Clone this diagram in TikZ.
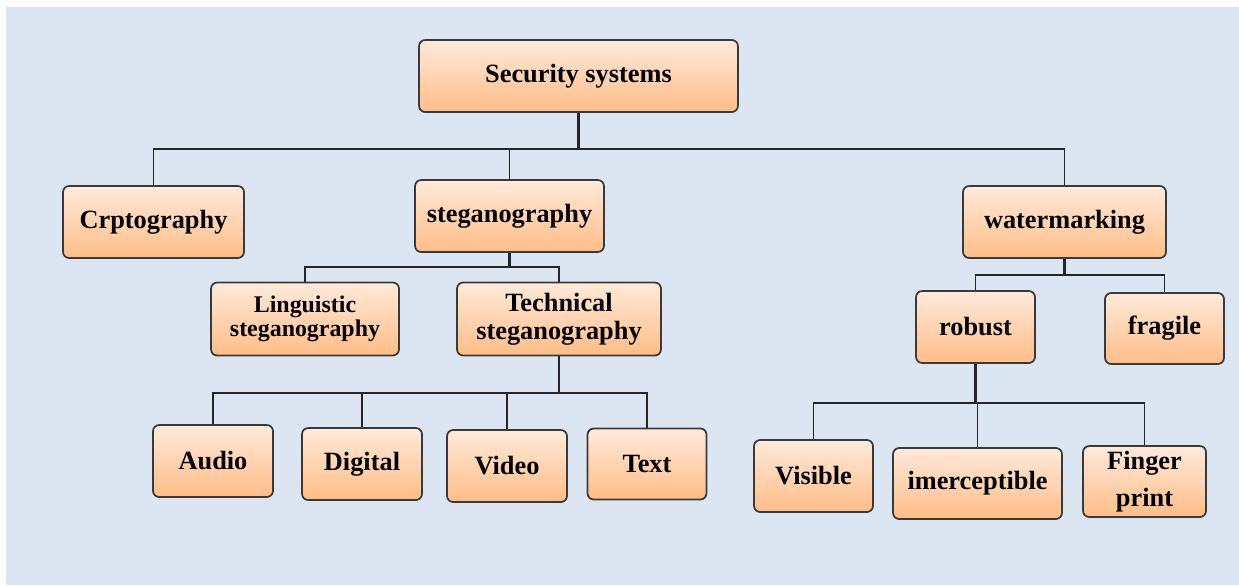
\documentclass[tikz,border=0pt]{standalone}
\usepackage{fontspec}
\setmainfont{Liberation Serif}
\definecolor{bgblue}{HTML}{DCE6F2}
\definecolor{boxtop}{HTML}{FFEADB}
\definecolor{boxbot}{HTML}{FFBD86}
\definecolor{boxline}{HTML}{3A3A3A}
\definecolor{linkline}{HTML}{262626}
\tikzset{
  box/.style={draw=boxline, line width=1pt, rounded corners=3.5pt,
    top color=boxtop, bottom color=boxbot, align=center, inner sep=0pt,
    font=\fontsize{15}{16}\selectfont\bfseries},
  link/.style={draw=linkline, line width=0.9pt},
  stem/.style={line width=1.4pt}
}
\begin{document}
\begin{tikzpicture}[x=0.02cm, y=-0.02cm]
      \useasboundingbox (0,0) rectangle (1239,585);
      \fill[bgblue] (6,7) rectangle (1239,585);
      % top level
      \node[box, minimum width=6.38cm, minimum height=1.44cm] (sec) at (578.5,76) {Security systems};
      \node[box, minimum width=3.62cm, minimum height=1.44cm] (crypto) at (153.5,222) {Crptography};
      \node[box, minimum width=3.78cm, minimum height=1.44cm] (stego) at (509.5,216) {steganography};
      \node[box, minimum width=4.06cm, minimum height=1.44cm] (water) at (1064.5,222) {watermarking};
      % steganography branch
      \node[box, minimum width=3.76cm, minimum height=1.46cm,
        font=\fontsize{13.6}{14}\selectfont\bfseries] (ling) at (305,319) {Linguistic\\steganography};
      \node[box, minimum width=4.08cm, minimum height=1.46cm] (tech) at (559,319) {Technical\\steganography};
      \node[box, minimum width=2.4cm, minimum height=1.44cm] (audio) at (213,461) {Audio};
      \node[box, minimum width=2.4cm, minimum height=1.44cm] (digital) at (362,464) {Digital};
      \node[box, minimum width=2.4cm, minimum height=1.44cm] (video) at (507,466) {Video};
      \node[box, minimum width=2.38cm, minimum height=1.42cm] (text) at (647,464) {Text};
      % watermarking branch
      \node[box, minimum width=2.38cm, minimum height=1.44cm] (robust) at (975.5,327) {robust};
      \node[box, minimum width=2.38cm, minimum height=1.42cm] (fragile) at (1164.5,328.5) {fragile};
      \node[box, minimum width=2.38cm, minimum height=1.44cm] (visible) at (813.5,476) {Visible};
      \node[box, minimum width=3.38cm, minimum height=1.42cm] (imper) at (977.5,483.5) {imerceptible};
      \node[box, minimum width=2.46cm, minimum height=1.42cm,
        font=\fontsize{15}{21}\selectfont\bfseries] (finger) at (1144.5,481.5) {Finger\\print};
      % bus rows
      \coordinate (bus1) at (0,149);
      \coordinate (bus2) at (0,267);
      \coordinate (bus3) at (0,393);
      \coordinate (bus4) at (0,275);
      \coordinate (bus5) at (0,403);
      \begin{scope}[link]
        \draw[stem] (sec.south) -- (sec.south |- bus1);
        \foreach \c in {crypto,stego,water}
          \draw (sec.south |- bus1) -| (\c.north);
        \draw[stem] (stego.south) -- (stego.south |- bus2);
        \foreach \c in {ling,tech}
          \draw (stego.south |- bus2) -| (\c.north);
        \draw[stem] (tech.south) -- (tech.south |- bus3);
        \foreach \c in {audio,digital,video,text}
          \draw (tech.south |- bus3) -| (\c.north);
        \draw[stem] (water.south) -- (water.south |- bus4);
        \foreach \c in {robust,fragile}
          \draw (water.south |- bus4) -| (\c.north);
        \draw[stem] (robust.south) -- (robust.south |- bus5);
        \foreach \c in {visible,imper,finger}
          \draw (robust.south |- bus5) -| (\c.north);
      \end{scope}
\end{tikzpicture}
\end{document}
